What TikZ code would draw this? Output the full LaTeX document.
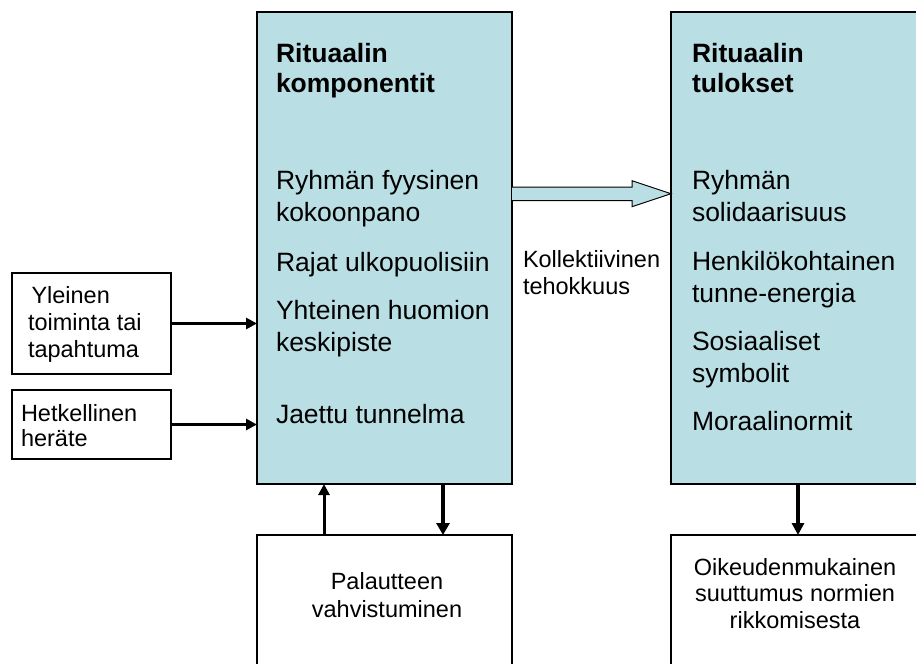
\documentclass[tikz,border=0pt]{standalone}
\usepackage{fontspec}
\setmainfont{Liberation Sans}
\usetikzlibrary{arrows.meta,calc}
\definecolor{ritblue}{RGB}{185,222,227}
\newcommand\mainsz{\fontsize{26.5pt}{32pt}\selectfont}
\newcommand\titlesz{\fontsize{26.5pt}{30pt}\selectfont\bfseries}
\newcommand\smallsz{\fontsize{23.5pt}{26.5pt}\selectfont}
\begin{document}
\begin{tikzpicture}[x=1pt,y=-1pt,
  plainbox/.style={draw=black, line width=1.4pt, rectangle, inner sep=0pt, outer sep=0pt},
  bluebox/.style={plainbox, fill=ritblue},
  txt/.style={inner sep=0pt, outer sep=0pt, align=left, anchor=base west},
  ctxt/.style={inner sep=0pt, outer sep=0pt, align=center, anchor=base},
  conn/.style={line width=3pt, -{Triangle[length=11pt,width=11pt]}},
  blockarrow/.style={draw=black, line width=1pt, fill=ritblue, line join=miter}]
\clip (0,0) rectangle (916,664);
\fill[white] (0,0) rectangle (916,664);
% boxes
\node[bluebox, minimum width=255pt, minimum height=472pt] (comp) at (384.5,248) {};
\node[bluebox, minimum width=260pt, minimum height=472pt] (res) at (801,248) {};
\node[plainbox, minimum width=159pt, minimum height=101pt] (gen) at (91.5,323.5) {};
\node[plainbox, minimum width=159pt, minimum height=69pt] (mom) at (91.5,424.5) {};
\node[plainbox, minimum width=255pt, minimum height=145pt] (fb) at (384.5,607.5) {};
\node[plainbox, minimum width=260pt, minimum height=145pt] (out) at (801,607.5) {};
% texts (anchor = baseline of the last line)
\node[txt, font=\titlesz] (ct) at (276,92) {Rituaalin\\komponentit};
\node[txt, font=\mainsz] (c1) at (276,221) {Ryhmän fyysinen\\kokoonpano};
\node[txt, font=\mainsz] (c2) at (276,271) {Rajat ulkopuolisiin};
\node[txt, font=\mainsz] (c3) at (276,351) {Yhteinen huomion\\keskipiste};
\node[txt, font=\mainsz] (c4) at (276,423) {Jaettu tunnelma};
\node[txt, font=\titlesz] (rt) at (692,92) {Rituaalin\\tulokset};
\node[txt, font=\mainsz] (r1) at (692,221) {Ryhmän\\solidaarisuus};
\node[txt, font=\mainsz] (r2) at (692,302) {Henkilökohtainen\\tunne-energia};
\node[txt, font=\mainsz] (r3) at (692,382) {Sosiaaliset\\symbolit};
\node[txt, font=\mainsz] (r4) at (692,430) {Moraalinormit};
\node[txt, font=\smallsz] (ke) at (523,294) {Kollektiivinen\\tehokkuus};
\node[txt, font=\fontsize{23.5pt}{27pt}\selectfont] (gt) at (28,357) {\hspace{3.5pt}Yleinen\\toiminta tai\\tapahtuma};
\node[txt, font=\fontsize{23.5pt}{25pt}\selectfont] (mt) at (21,446.7) {Hetkellinen\\heräte};
\node[ctxt, font=\fontsize{23.5pt}{28pt}\selectfont] (ft) at (387,617) {Palautteen\\vahvistuminen};
\node[ctxt, font=\fontsize{23.5pt}{26.5pt}\selectfont] (ot) at (795,628) {Oikeudenmukainen\\suuttumus normien\\rikkomisesta};
% connectors
\draw[conn] (gen.east) -- (gen.east -| comp.west);
\draw[conn] (mom.east) -- (mom.east -| comp.west);
\draw[conn] ([xshift=67pt]fb.north west) -- ([xshift=67pt]comp.south west);
\draw[line width=4.5pt, -{Triangle[length=12pt,width=13pt]}] ([xshift=186pt]comp.south west) -- ([xshift=186pt]fb.north west);
\draw[line width=3.5pt, -{Triangle[length=12pt,width=12pt]}] ([xshift=127pt]res.south west) -- ([xshift=127pt]out.north west);
\draw[blockarrow] ($(comp.east)+(0,-61)$) -- ($(res.west)+(-39,-61)$) -- ($(res.west)+(-39,-67.3)$)
  -- ($(res.west)+(0,-54.3)$) -- ($(res.west)+(-39,-41.3)$) -- ($(res.west)+(-39,-47.3)$)
  -- ($(comp.east)+(0,-47.3)$);
\end{tikzpicture}
\end{document}
